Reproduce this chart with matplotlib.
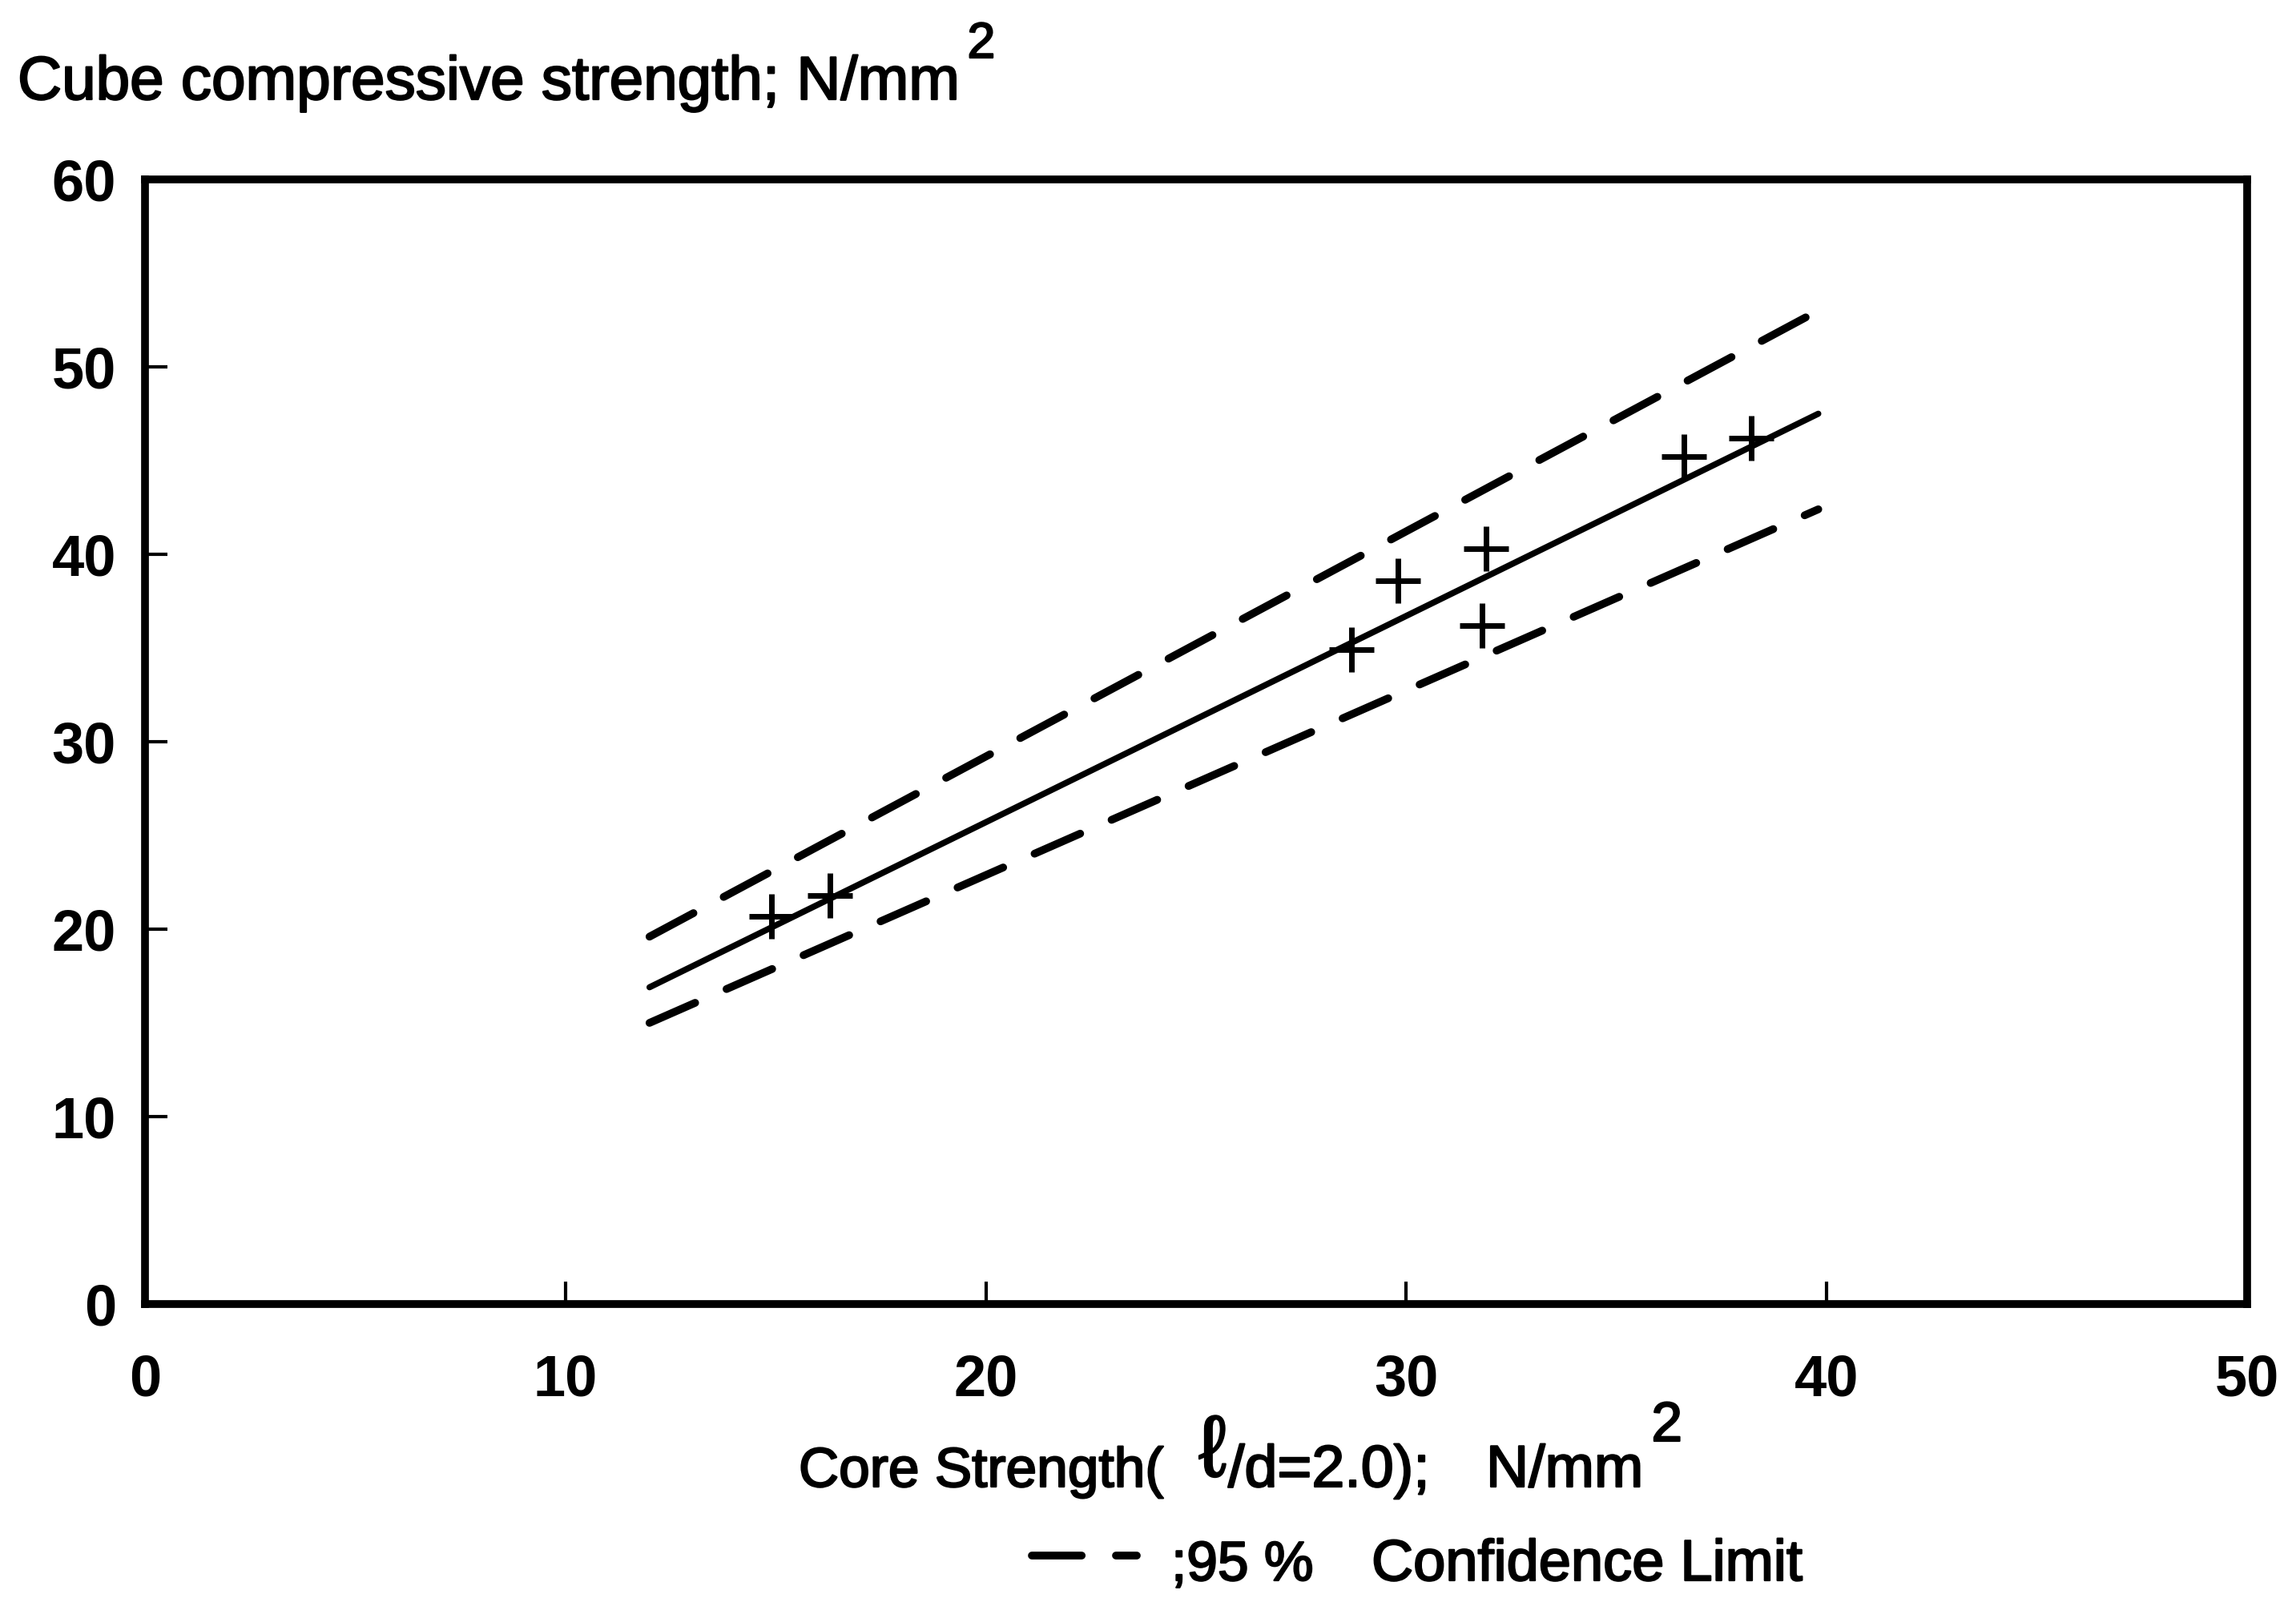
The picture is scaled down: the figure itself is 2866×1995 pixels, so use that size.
import matplotlib
matplotlib.use("Agg")
import matplotlib.pyplot as plt
import matplotlib.patheffects as pe
from matplotlib.lines import Line2D

# Measured specimens: core strength (l/d = 2.0) vs cube compressive strength, N/mm^2
core_strength = [14.9, 16.3, 28.7, 29.8, 31.9, 31.8, 36.6, 38.2]
cube_strength = [20.7, 21.8, 34.9, 38.6, 40.3, 36.2, 45.2, 46.2]

# Regression line and 95 % confidence limits (end points)
line_x = [12.0, 39.8]
fit_y = [16.9, 47.5]
upper_y = [19.6, 53.0]
lower_y = [15.0, 42.4]

x_ticks = [0, 10, 20, 30, 40, 50]
y_ticks = [0, 10, 20, 30, 40, 50, 60]

W, H, DPI = 2866, 1995, 100
plt.rcParams['font.family'] = ['Liberation Sans', 'DejaVu Sans']

fig = plt.figure(figsize=(W / DPI, H / DPI), dpi=DPI)
fig.patch.set_facecolor('white')

ax_l, ax_r, ax_t, ax_b = 181, 2805, 224, 1628
ax = fig.add_axes([ax_l / W, 1 - ax_b / H, (ax_r - ax_l) / W, (ax_b - ax_t) / H])
ax.set_xlim(0, 50)
ax.set_ylim(0, 60)

for sp in ax.spines.values():
    sp.set_linewidth(7)
    sp.set_color('black')

ax.set_xticks(x_ticks)
ax.set_yticks(y_ticks)
ax.set_xticklabels([str(v) for v in x_ticks], fontsize=52, fontweight='bold')
ax.set_yticklabels([str(v) for v in y_ticks], fontsize=52, fontweight='bold')
ax.tick_params(axis='x', direction='in', length=20, width=3, pad=44,
               top=False)
ax.tick_params(axis='y', direction='in', length=20, width=3, pad=26,
               right=False)

dash_style = dict(color='black', lw=7, dash_capstyle='round',
                  dashes=(6.4, 4.4))
ax.plot(line_x, upper_y, **dash_style)
ax.plot(line_x, lower_y, **dash_style)
ax.plot(line_x, fit_y, color='black', lw=5.5, solid_capstyle='round')
ax.plot(core_strength, cube_strength, linestyle='none', marker='+',
        markersize=40, markeredgewidth=5, color='black')

heavy = [pe.withStroke(linewidth=1.6, foreground='black')]


def put(x, y, s, size, weight='normal'):
    return fig.text(x / W, 1 - y / H, s, fontsize=size, fontweight=weight,
                    ha='left', va='baseline', color='black',
                    path_effects=heavy)


renderer = fig.canvas.get_renderer()


def right_edge(t):
    # right edge of a text, in pixels from the left of the figure
    return t.get_window_extent(renderer).x1


# Axis titles
title = put(22, 124, 'Cube compressive strength; N/mm', 55)
put(right_edge(title) + 10, 72, '2', 45)

put(997, 1856, 'Core Strength(', 50)
ell = put(1496, 1843, '\u2113', 78)
put(right_edge(ell) + 2, 1856, '/d=2.0);', 53)
unit = put(1855, 1856, 'N/mm', 53)
put(right_edge(unit) + 10, 1799, '2', 50)

# Confidence-limit key
key_y = 1 - 1942 / H
fig.add_artist(Line2D([1288 / W, 1419 / W], [key_y, key_y],
                      transform=fig.transFigure, **dash_style))
put(1462, 1973, ';95 %', 50)
put(1712, 1973, 'Confidence Limit', 52)

fig.savefig('out.png', dpi=DPI, facecolor='white')
